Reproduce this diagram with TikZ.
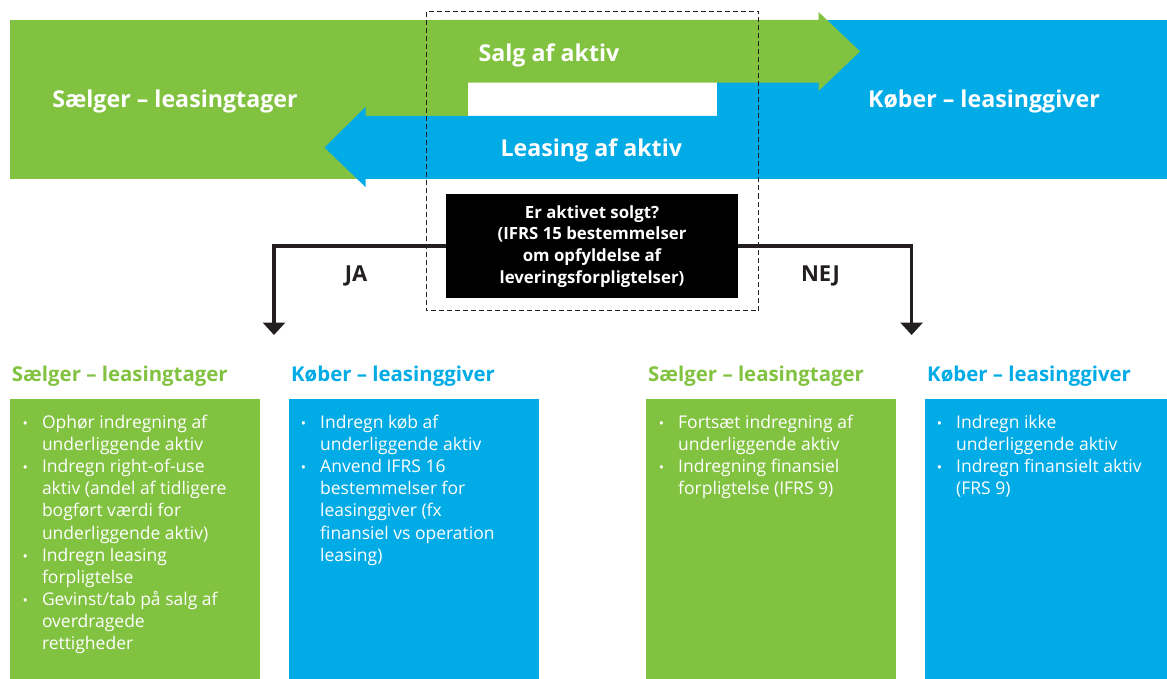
\documentclass[tikz,border=0pt]{standalone}
\usepackage{fontspec}
\setmainfont{Open Sans}
\usetikzlibrary{arrows.meta}
\definecolor{lgreen}{RGB}{130,194,65}
\definecolor{lblue}{RGB}{0,171,230}
\definecolor{ink}{RGB}{35,31,32}
\newcommand\bul{\leavevmode\llap{{\fontsize{14}{14}\selectfont •}\hspace{14pt}}}

\begin{document}
\begin{tikzpicture}[x=1pt,y=-1pt,
  toptext/.style={text=white,font=\bfseries\fontsize{23.2}{23.2}\selectfont,inner sep=0,anchor=base},
  head/.style={font=\bfseries\fontsize{20.4}{20.4}\selectfont,inner sep=0,anchor=base west},
  bullets/.style={text=white,font=\fontsize{17.5}{22.1}\selectfont,align=left,inner sep=0,anchor=north west},
  question/.style={fill=black,text=white,inner sep=0,align=center,
    minimum width=291.7pt,minimum height=104.3pt,
    font=\bfseries\fontsize{16.8}{21.7}\selectfont},
  answer/.style={text=ink,inner sep=0,anchor=base,font=\bfseries\fontsize{22}{22}\selectfont},
  flow/.style={draw=ink,line width=3.5pt,-{Triangle[width=22pt,length=12.5pt]}},
  frame/.style={draw=ink,line width=1pt,dash pattern=on 5pt off 3pt},
]
\useasboundingbox (0,0) rectangle (1167,679);

% seller and buyer bars
\fill[lgreen] (9.6,20) rectangle (468.3,179);
\fill[lblue] (717,20) rectangle (1167,179);
% sale arrow (seller to buyer)
\fill[lgreen] (440,20) -- (818.6,20) -- (818.6,12) -- (860,51.4) -- (818.6,91)
  -- (818.6,82.7) -- (440,82.7) -- cycle;
% lease arrow (buyer to seller)
\fill[lblue] (800,116) -- (365.5,116) -- (365.5,107) -- (324.5,147.5) -- (365.5,187)
  -- (365.5,179) -- (800,179) -- cycle;

\node[toptext] (seller) at (175,108) {Sælger – leasingtager};
\node[toptext] (buyer) at (984,108) {Køber – leasinggiver};
\node[toptext] (sale) at (549,61.7) {Salg af aktiv};
\node[toptext] (lease) at (591.3,156.7) {Leasing af aktiv};

% transaction frame
\draw[frame] (426,11.7) rectangle (758.8,310.7);

% decision
\node[question] (q) at (592,246.2) {Er aktivet solgt?\\(IFRS 15 bestemmelser\\om opfyldelse af\\leveringsforpligtelser)};
\coordinate (ja) at (274,335);
\coordinate (nej) at (911.6,335);
\draw[flow] (q.west) -| (ja);
\draw[flow] (q.east) -| (nej);
\node[answer] (jalabel) at (356,281.7) {JA};
\node[answer] (nejlabel) at (820.5,281.7) {NEJ};

% outcome headings
\node[head,text=lgreen] (h1) at (11.8,381.7) {Sælger – leasingtager};
\node[head,text=lblue] (h2) at (291,381.7) {Køber – leasinggiver};
\node[head,text=lgreen] (h3) at (648,381.7) {Sælger – leasingtager};
\node[head,text=lblue] (h4) at (927,381.7) {Køber – leasinggiver};

% outcome panels
\fill[lgreen] (10,399.3) rectangle (259.6,679);
\fill[lblue] (289,399.3) rectangle (538.6,679);
\fill[lgreen] (646,399.3) rectangle (896,679);
\fill[lblue] (925,399.3) rectangle (1167,679);

\node[bullets] (b1) at (41.8,415) {\bul Ophør indregning af\\underliggende aktiv\\\bul Indregn right-of-use\\aktiv (andel af tidligere\\bogført værdi for\\underliggende aktiv)\\\bul Indregn leasing\\forpligtelse\\\bul Gevinst/tab på salg af\\overdragede\\rettigheder};
\node[bullets] (b2) at (320,415) {\bul Indregn køb af\\underliggende aktiv\\\bul Anvend IFRS 16\\bestemmelser for\\leasinggiver (fx\\finansiel vs operation\\leasing)};
\node[bullets] (b3) at (678,415) {\bul Fortsæt indregning af\\underliggende aktiv\\\bul Indregning finansiel\\forpligtelse (IFRS 9)};
\node[bullets] (b4) at (956,415) {\bul Indregn ikke\\underliggende aktiv\\\bul Indregn finansielt aktiv\\(FRS 9)};
\end{tikzpicture}
\end{document}
